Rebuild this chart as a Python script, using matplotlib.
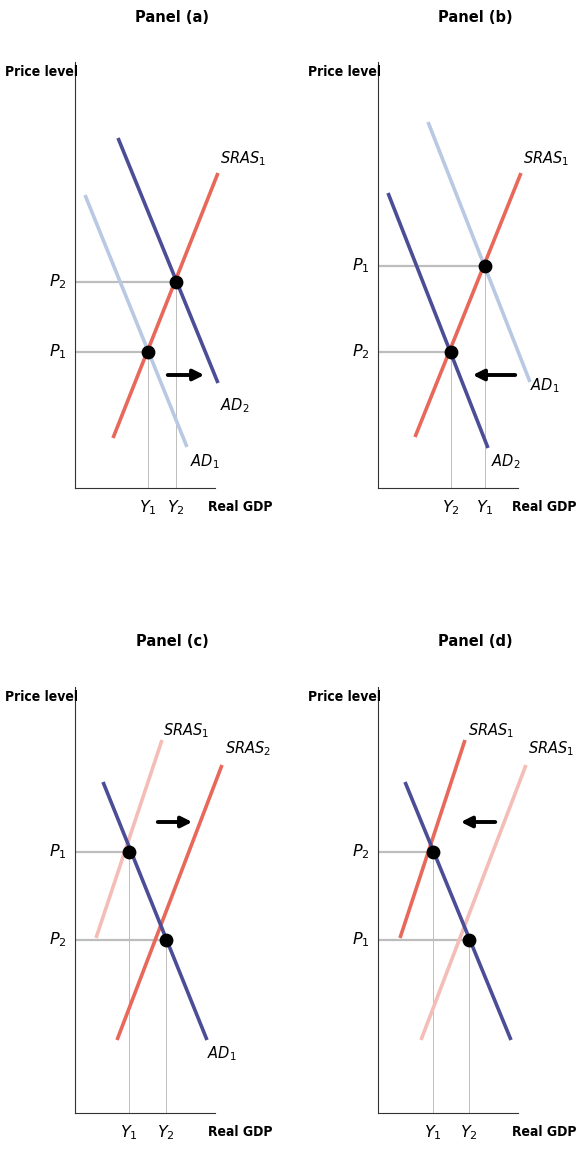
import matplotlib.pyplot as plt

plt.rcParams['font.family'] = ['DejaVu Sans']
plt.rcParams['mathtext.fontset'] = 'dejavusans'

RED = '#e8685a'
LIGHT_RED = '#f4bdb8'
DARK_BLUE = '#4b4e96'
LIGHT_BLUE = '#b9c9e3'
GRAY = '#bdbdbd'

# each panel: curves (label, x pair, y pair, color, label position), equilibria, arrow
titles = ['Panel (a)', 'Panel (b)', 'Panel (c)', 'Panel (d)']
origins = [(75, 488), (378, 488), (75, 1113), (378, 1113)]

curves = [
    [('SRAS_1', (38, 143), (50, 315), RED, (145, 325)),
     ('AD_1', (10, 112), (293, 41), LIGHT_BLUE, (115, 22)),
     ('AD_2', (43, 143), (350, 105), DARK_BLUE, (145, 78))],
    [('SRAS_1', (37, 143), (51, 315), RED, (145, 325)),
     ('AD_1', (50, 152), (366, 106), LIGHT_BLUE, (152, 98)),
     ('AD_2', (10, 110), (295, 40), DARK_BLUE, (113, 22))],
    [('SRAS_1', (21, 87), (175, 373), LIGHT_RED, (88, 378)),
     ('SRAS_2', (42, 147), (73, 348), RED, (150, 360)),
     ('AD_1', (28, 132), (331, 73), DARK_BLUE, (132, 55))],
    [('SRAS_1', (22, 87), (175, 373), RED, (90, 378)),
     ('SRAS_1', (43, 148), (73, 348), LIGHT_RED, (150, 360)),
     ('AD_1', (27, 133), (331, 73), DARK_BLUE, None)],
]
eq_x = [(73, 101), (107, 73), (54, 91), (55, 91)]
eq_y = [(136, 206), (222, 136), (261, 173), (261, 173)]
# labels listed from lower to upper price
p_labels = [('P_1', 'P_2'), ('P_2', 'P_1'), ('P_2', 'P_1'), ('P_1', 'P_2')]
# labels listed from left to right
y_labels = [('Y_1', 'Y_2'), ('Y_2', 'Y_1'), ('Y_1', 'Y_2'), ('Y_1', 'Y_2')]
arrows = [((90, 113), (132, 113)), ((140, 113), (92, 113)),
          ((80, 291), (120, 291)), ((120, 291), (80, 291))]

W, H = 578, 1167
fig = plt.figure(figsize=(W / 100, H / 100), dpi=100)

AX_W, AX_H = 140, 426
for i in range(4):
    ox, oy = origins[i]
    ax = fig.add_axes([ox / W, (H - oy) / H, AX_W / W, AX_H / H])
    ax.set_xlim(0, AX_W)
    ax.set_ylim(0, AX_H)
    for s in ['top', 'right']:
        ax.spines[s].set_visible(False)
    ax.spines['left'].set_color('#333333')
    ax.spines['bottom'].set_color('#333333')
    ax.set_xticks([])
    ax.set_yticks([])
    ax.patch.set_alpha(0)

    for j in range(2):
        ax.plot([0, eq_x[i][j]], [eq_y[i][j]] * 2, color=GRAY, lw=1.6, zorder=1)
        ax.plot([eq_x[i][j]] * 2, [0, eq_y[i][j]], color=GRAY, lw=0.7, zorder=1)
    for name, xs, ys, col, lp in curves[i]:
        ax.plot(xs, ys, color=col, lw=2.6, solid_capstyle='butt', clip_on=False, zorder=2)
        if lp is not None:
            ax.text(lp[0], lp[1], '$' + name + '$', fontsize=10.5, clip_on=False)
    ax.scatter(eq_x[i], eq_y[i], s=80, color='black', zorder=3, clip_on=False)

    for lab, yv in zip(p_labels[i], sorted(eq_y[i])):
        ax.text(-8, yv, '$' + lab + '$', fontsize=11.5, ha='right', va='center', clip_on=False)
    for lab, xv in zip(y_labels[i], sorted(eq_x[i])):
        ax.text(xv, -10, '$' + lab + '$', fontsize=11.5, ha='center', va='top', clip_on=False)

    (x0, y0), (x1, y1) = arrows[i]
    ax.annotate('', xy=(x1, y1), xytext=(x0, y0),
                arrowprops=dict(arrowstyle='-|>', color='black', lw=2.8, mutation_scale=16))

    ax.text(-70, AX_H - 10, 'Price level', fontsize=10, fontweight='bold',
            fontstretch='condensed', ha='left', va='center', clip_on=False)
    ax.text(198, -12, 'Real GDP', fontsize=10, fontweight='bold',
            fontstretch='condensed', ha='right', va='top', clip_on=False)
    ax.text(97, AX_H + 45, titles[i], fontsize=10.5, fontweight='bold',
            ha='center', va='center', clip_on=False)

fig.savefig('out.png', dpi=100)
